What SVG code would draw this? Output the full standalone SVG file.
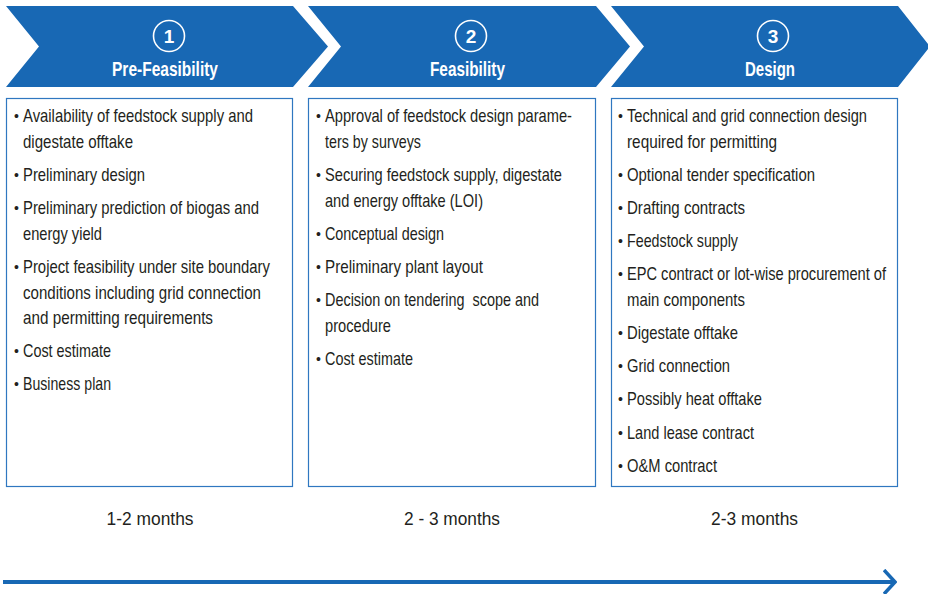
<svg xmlns="http://www.w3.org/2000/svg" width="928" height="594" viewBox="0 0 928 594">
<style>
.chev{fill:#1868b4}
.box{fill:#fff;stroke:#2f77c0;stroke-width:1.2}
.num{fill:none;stroke:#fff;stroke-width:1.6}
.nt{font-family:"Liberation Sans Narrow","Liberation Sans",Arial,sans-serif;font-weight:bold;font-size:19px;fill:#fff;text-anchor:middle}
.tt{font-family:"Liberation Sans Narrow","Liberation Sans",Arial,sans-serif;font-weight:bold;font-size:20.5px;fill:#fff;text-anchor:middle}
.it{font-family:"Liberation Sans Narrow","Liberation Sans",Arial,sans-serif;font-size:18.5px;fill:#231f20}
.bu{font-family:"Liberation Sans",Arial,sans-serif;font-size:14px;fill:#231f20}
.du{font-family:"Liberation Sans Narrow","Liberation Sans",Arial,sans-serif;font-size:18px;fill:#231f20;text-anchor:middle}
</style>
<defs>
<marker id="ah" markerWidth="14" markerHeight="26" refX="12" refY="13" orient="auto" markerUnits="userSpaceOnUse">
<path d="M1,1 L12,13 L1,25" fill="none" stroke="#1868b4" stroke-width="3.5"/>
</marker>
</defs>

<g id="phase1">
<path class="chev" d="M6,6 L293,6 L328,46.5 L293,87 L6,87 L39,46.5 Z"/>
<circle class="num" cx="169" cy="36" r="15.5"/>
<text class="nt" x="169" y="43">1</text>
<text class="tt" x="165" y="76" textLength="106" lengthAdjust="spacingAndGlyphs">Pre-Feasibility</text>
<rect class="box" x="6.5" y="98.5" width="286" height="388"/>
<g class="bu">
<text x="14" y="121">•</text><text x="14" y="180">•</text><text x="14" y="213">•</text><text x="14" y="272">•</text><text x="14" y="356">•</text><text x="14" y="389">•</text>
</g>
<g class="it">
<text x="23" y="122" textLength="230" lengthAdjust="spacingAndGlyphs">Availability of feedstock supply and</text>
<text x="23" y="148" textLength="110" lengthAdjust="spacingAndGlyphs">digestate offtake</text>
<text x="23" y="181" textLength="122" lengthAdjust="spacingAndGlyphs">Preliminary design</text>
<text x="23" y="214" textLength="236" lengthAdjust="spacingAndGlyphs">Preliminary prediction of biogas and</text>
<text x="23" y="240" textLength="79" lengthAdjust="spacingAndGlyphs">energy yield</text>
<text x="23" y="273" textLength="247" lengthAdjust="spacingAndGlyphs">Project feasibility under site boundary</text>
<text x="23" y="299" textLength="238" lengthAdjust="spacingAndGlyphs">conditions including grid connection</text>
<text x="23" y="324" textLength="190" lengthAdjust="spacingAndGlyphs">and permitting requirements</text>
<text x="23" y="357" textLength="88" lengthAdjust="spacingAndGlyphs">Cost estimate</text>
<text x="23" y="390" textLength="88" lengthAdjust="spacingAndGlyphs">Business plan</text>
</g>
<text class="du" x="150" y="525" textLength="87" lengthAdjust="spacingAndGlyphs">1-2 months</text>
</g>

<g id="phase2">
<path class="chev" d="M308,6 L596,6 L630,46.5 L596,87 L308,87 L341,46.5 Z"/>
<circle class="num" cx="471" cy="36" r="15.5"/>
<text class="nt" x="471" y="43">2</text>
<text class="tt" x="467.5" y="76" textLength="75" lengthAdjust="spacingAndGlyphs">Feasibility</text>
<rect class="box" x="308.5" y="98.5" width="287" height="388"/>
<g class="bu">
<text x="316" y="121">•</text><text x="316" y="180">•</text><text x="316" y="239">•</text><text x="316" y="272">•</text><text x="316" y="305">•</text><text x="316" y="364">•</text>
</g>
<g class="it">
<text x="325" y="122" textLength="247" lengthAdjust="spacingAndGlyphs">Approval of feedstock design parame-</text>
<text x="325" y="148" textLength="96" lengthAdjust="spacingAndGlyphs">ters by surveys</text>
<text x="325" y="181" textLength="237" lengthAdjust="spacingAndGlyphs">Securing feedstock supply, digestate</text>
<text x="325" y="207" textLength="158" lengthAdjust="spacingAndGlyphs">and energy offtake (LOI)</text>
<text x="325" y="240" textLength="119" lengthAdjust="spacingAndGlyphs">Conceptual design</text>
<text x="325" y="273" textLength="158" lengthAdjust="spacingAndGlyphs">Preliminary plant layout</text>
<text x="325" y="306" textLength="214" lengthAdjust="spacingAndGlyphs" xml:space="preserve">Decision on tendering  scope and</text>
<text x="325" y="332" textLength="66" lengthAdjust="spacingAndGlyphs">procedure</text>
<text x="325" y="365" textLength="88" lengthAdjust="spacingAndGlyphs">Cost estimate</text>
</g>
<text class="du" x="452" y="525" textLength="96" lengthAdjust="spacingAndGlyphs">2 - 3 months</text>
</g>

<g id="phase3">
<path class="chev" d="M611,6 L898,6 L930,46.5 L898,87 L611,87 L644,46.5 Z"/>
<circle class="num" cx="773" cy="36" r="15.5"/>
<text class="nt" x="773" y="43">3</text>
<text class="tt" x="770" y="76" textLength="50" lengthAdjust="spacingAndGlyphs">Design</text>
<rect class="box" x="611.5" y="98.5" width="286" height="388"/>
<g class="bu">
<text x="618" y="121">•</text><text x="618" y="180">•</text><text x="618" y="213">•</text><text x="618" y="246">•</text><text x="618" y="279">•</text><text x="618" y="338">•</text><text x="618" y="371">•</text><text x="618" y="404">•</text><text x="618" y="438">•</text><text x="618" y="471">•</text>
</g>
<g class="it">
<text x="627" y="122" textLength="240" lengthAdjust="spacingAndGlyphs">Technical and grid connection design</text>
<text x="627" y="148" textLength="150" lengthAdjust="spacingAndGlyphs">required for permitting</text>
<text x="627" y="181" textLength="188" lengthAdjust="spacingAndGlyphs">Optional tender specification</text>
<text x="627" y="214" textLength="118" lengthAdjust="spacingAndGlyphs">Drafting contracts</text>
<text x="627" y="247" textLength="111" lengthAdjust="spacingAndGlyphs">Feedstock supply</text>
<text x="627" y="280" textLength="259" lengthAdjust="spacingAndGlyphs">EPC contract or lot-wise procurement of</text>
<text x="627" y="306" textLength="118" lengthAdjust="spacingAndGlyphs">main components</text>
<text x="627" y="339" textLength="111" lengthAdjust="spacingAndGlyphs">Digestate offtake</text>
<text x="627" y="372" textLength="103" lengthAdjust="spacingAndGlyphs">Grid connection</text>
<text x="627" y="405" textLength="135" lengthAdjust="spacingAndGlyphs">Possibly heat offtake</text>
<text x="627" y="439" textLength="127" lengthAdjust="spacingAndGlyphs">Land lease contract</text>
<text x="627" y="472" textLength="90" lengthAdjust="spacingAndGlyphs">O&amp;M contract</text>
</g>
<text class="du" x="754.5" y="525" textLength="87" lengthAdjust="spacingAndGlyphs">2-3 months</text>
</g>

<g id="connectors">
<line x1="3" y1="582" x2="895" y2="582" stroke="#1868b4" stroke-width="4" marker-end="url(#ah)"/>
</g>
</svg>
